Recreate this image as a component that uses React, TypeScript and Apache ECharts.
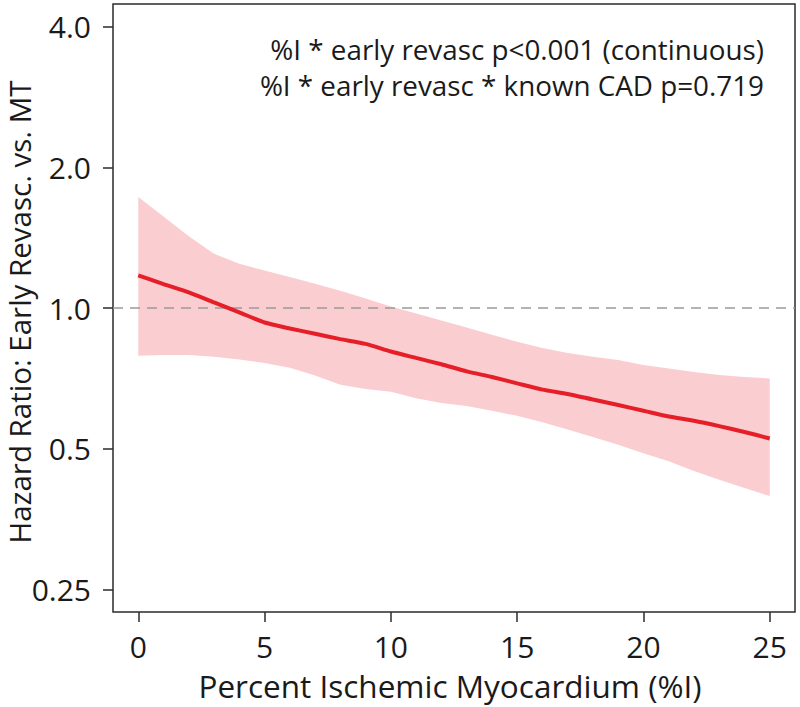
import React, { useEffect, useRef } from "react";
import * as echarts from "echarts";

const xValues = [0, 1, 2, 3, 4, 5, 6, 7, 8, 9, 10, 11, 12, 13, 14, 15, 16, 17, 18, 19, 20, 21, 22, 23, 24, 25];
const hazardRatio = [1.174, 1.125, 1.08, 1.028, 0.979, 0.931, 0.904, 0.881, 0.858, 0.838, 0.807, 0.782, 0.758, 0.732, 0.712, 0.69, 0.669, 0.655, 0.637, 0.62, 0.603, 0.586, 0.574, 0.559, 0.543, 0.526];
const upperCI = [1.727, 1.569, 1.424, 1.306, 1.244, 1.203, 1.165, 1.127, 1.088, 1.048, 1.007, 0.973, 0.94, 0.908, 0.877, 0.847, 0.821, 0.801, 0.787, 0.774, 0.755, 0.742, 0.73, 0.719, 0.712, 0.707];
const lowerCI = [0.79, 0.793, 0.793, 0.787, 0.776, 0.763, 0.745, 0.717, 0.685, 0.671, 0.662, 0.641, 0.626, 0.617, 0.603, 0.588, 0.57, 0.55, 0.53, 0.51, 0.489, 0.47, 0.448, 0.429, 0.412, 0.396];
const xTicks = [0, 5, 10, 15, 20, 25];
const yTickValues = [0.25, 0.5, 1.0, 2.0, 4.0];
const yTickLabels = ["0.25", "0.5", "1.0", "2.0", "4.0"];
const annotations = [
  "%I * early revasc p<0.001 (continuous)",
  "%I * early revasc * known CAD p=0.719",
];
const xTitle = "Percent Ischemic Myocardium (%I)";
const yTitle = "Hazard Ratio: Early Revasc. vs. MT";

const FONT = "Open Sans";
const lg = (v: number) => Math.log2(v);

export default function App() {
  const ref = useRef<HTMLDivElement>(null);
  useEffect(() => {
    document.body.style.margin = "0";
    if (!ref.current) return;
    const chart = echarts.init(ref.current, null, { renderer: "svg" });
    const yTickLog = yTickValues.map(lg);
    const option: any = {
      animation: false,
      backgroundColor: "#ffffff",
      textStyle: { fontFamily: FONT },
      grid: {
        left: 113,
        right: 5,
        top: 4,
        bottom: 95,
        show: true,
        borderColor: "#2b2b2b",
        borderWidth: 1.5,
        backgroundColor: "transparent",
        containLabel: false,
        outerBoundsMode: "none",
      },
      xAxis: {
        type: "value",
        min: -1,
        max: 26,
        axisLine: { show: false, onZero: false },
        splitLine: { show: false },
        axisTick: {
          show: true,
          inside: false,
          length: 10,
          customValues: xTicks,
          lineStyle: { color: "#2b2b2b", width: 1.5 },
        },
        axisLabel: {
          customValues: xTicks,
          margin: 19,
          fontFamily: FONT,
          fontSize: 30,
          lineHeight: 30,
          color: "#1a1a1a",
        },
      },
      yAxis: {
        type: "value",
        min: lg(2 ** -2.16),
        max: lg(2 ** 2.16),
        axisLine: { show: false, onZero: false },
        splitLine: { show: false },
        axisTick: {
          show: true,
          inside: false,
          length: 10,
          customValues: yTickLog,
          lineStyle: { color: "#2b2b2b", width: 1.5 },
        },
        axisLabel: {
          customValues: yTickLog,
          margin: 22,
          fontFamily: FONT,
          fontSize: 30,
          color: "#1a1a1a",
          formatter: (v: number) => {
            const i = yTickLog.findIndex((t) => Math.abs(t - v) < 1e-6);
            return i >= 0 ? yTickLabels[i] : "";
          },
        },
      },
      graphic: [
        ...annotations.map((t, i) => ({
          type: "text",
          right: 36,
          top: 35 + i * 36,
          style: {
            text: t,
            fontFamily: FONT,
            fontSize: 27.8,
            fill: "#1a1a1a",
            textAlign: "right",
          },
          z: 10,
        })),
        {
          type: "text",
          x: 450,
          y: 685,
          style: {
            text: xTitle,
            fontFamily: FONT,
            fontSize: 31.5,
            fill: "#1a1a1a",
            textAlign: "center",
            textVerticalAlign: "middle",
          },
        },
        {
          type: "text",
          x: 19,
          y: 312,
          rotation: Math.PI / 2,
          style: {
            text: yTitle,
            fontFamily: FONT,
            fontSize: 29.5,
            fill: "#1a1a1a",
            textAlign: "center",
            textVerticalAlign: "middle",
          },
        },
      ],
      series: [
        {
          type: "custom",
          clip: true,
          z: 1,
          data: [[0, 0]],
          renderItem: (params: any, api: any) => {
            if (params.dataIndex !== 0) return null;
            const pts: number[][] = [];
            for (let i = 0; i < xValues.length; i++) pts.push(api.coord([xValues[i], lg(upperCI[i])]));
            for (let i = xValues.length - 1; i >= 0; i--) pts.push(api.coord([xValues[i], lg(lowerCI[i])]));
            return {
              type: "polygon",
              shape: { points: pts },
              style: { fill: "#FACDD1", stroke: null },
            };
          },
        },
        {
          type: "line",
          z: 3,
          data: xValues.map((x, i) => [x, lg(hazardRatio[i])]),
          symbol: "none",
          smooth: 0.2,
          lineStyle: { color: "#E61E28", width: 4 },
          markLine: {
            silent: true,
            symbol: ["none", "none"],
            label: { show: false },
            lineStyle: { color: "#9a9a9a", type: [10, 7], width: 1.5 },
            data: [{ yAxis: 0 }],
            z: 2,
          },
        },
      ],
    };
    chart.setOption(option);
    return () => chart.dispose();
  }, []);
  return <div ref={ref} style={{ width: 800, height: 707 }} />;
}
